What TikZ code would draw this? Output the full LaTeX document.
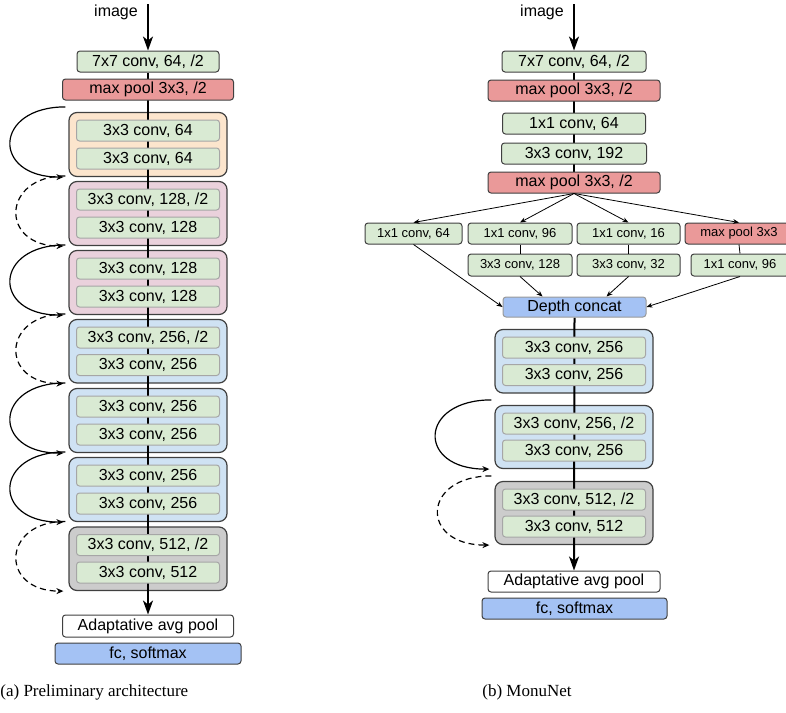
\documentclass[tikz,border=0pt]{standalone}
\usepackage{fontspec}
\setmainfont{Liberation Serif}
\setsansfont{Liberation Sans}
\usetikzlibrary{arrows.meta,backgrounds,fit}
\tikzset{>=Stealth}
\definecolor{convColor}{HTML}{D9EAD3}
\definecolor{poolColor}{HTML}{EA9999}
\definecolor{fcColor}{HTML}{A4C2F4}
\definecolor{orangeBlock}{HTML}{FCE5CD}
\definecolor{pinkBlock}{HTML}{EAD1DC}
\definecolor{blueBlock}{HTML}{CFE2F3}
\definecolor{grayBlock}{HTML}{CCCCCC}
\tikzset{
  layer/.style={
    draw=black!75,
    line width=0.5pt,
    fill=convColor,
    rounded corners=1.5pt,
    inner sep=0pt,
    minimum height=10.5pt,
    font=\sffamily\fontsize{8}{9}\selectfont
  },
  inner layer/.style={layer, draw=black!35, minimum width=71.5pt},
  pool layer/.style={layer, fill=poolColor},
  branch layer/.style={layer, font=\sffamily\fontsize{6.5}{7.5}\selectfont},
  res block/.style={
    draw=black!75,
    line width=0.6pt,
    rounded corners=4pt,
    inner sep=3.5pt
  },
  trunk/.style={line width=1pt},
  input arrow/.style={trunk, -{Stealth[length=7pt,width=5pt,inset=2pt]}},
  identity skip/.style={-{Stealth[length=3.5pt,width=3pt]}, line width=0.6pt},
  projection skip/.style={identity skip, dash pattern=on 3pt off 2pt},
  branch arrow/.style={-{Stealth[length=3pt,width=2.4pt]}, line width=0.4pt},
  caption text/.style={font=\fontsize{8.5}{10}\selectfont, anchor=west, inner sep=0pt}
}

\begin{document}
\begin{tikzpicture}[x=0.5pt, y=-0.5pt] % one unit = one pixel, y grows downward
\def\xA{148}   % axis of the left network
\def\xB{574}   % axis of the right network
\def\bulge{72} % how far the skip arcs swing out

\useasboundingbox (0,0) rectangle (786,712);

% === (a) Preliminary architecture ===
\coordinate (inA) at (\xA,4);
\node[font=\sffamily\fontsize{8}{9}\selectfont, inner sep=0pt] (imgA) at (116,12) {image};

\node[layer, minimum width=71pt] (c7a) at (\xA,61.5) {7x7 conv, 64, /2};
\node[pool layer, minimum width=85.5pt] (mpA) at (\xA,89.5) {max pool 3x3, /2};

\node[inner layer] (b1a) at (\xA,130.5) {3x3 conv, 64};
\node[inner layer] (b1b) at (\xA,158.5) {3x3 conv, 64};
\node[inner layer] (b2a) at (\xA,199.5) {3x3 conv, 128, /2};
\node[inner layer] (b2b) at (\xA,227.5) {3x3 conv, 128};
\node[inner layer] (b3a) at (\xA,268.5) {3x3 conv, 128};
\node[inner layer] (b3b) at (\xA,296.5) {3x3 conv, 128};
\node[inner layer] (b4a) at (\xA,337.5) {3x3 conv, 256, /2};
\node[inner layer] (b4b) at (\xA,365) {3x3 conv, 256};
\node[inner layer] (b5a) at (\xA,406.5) {3x3 conv, 256};
\node[inner layer] (b5b) at (\xA,434.5) {3x3 conv, 256};
\node[inner layer] (b6a) at (\xA,475.5) {3x3 conv, 256};
\node[inner layer] (b6b) at (\xA,503.5) {3x3 conv, 256};
\node[inner layer] (b7a) at (\xA,545) {3x3 conv, 512, /2};
\node[inner layer] (b7b) at (\xA,572.5) {3x3 conv, 512};

\node[layer, fill=white, minimum width=85.5pt, minimum height=11pt] (avgA) at (\xA,626) {Adaptative avg pool};
\node[layer, fill=fcColor, minimum width=93pt] (fcA) at (\xA,653.5) {fc, softmax};

\draw[input arrow] (inA) -- (c7a.north);

% === (b) MonuNet ===
\coordinate (inB) at (\xB,4);
\node[font=\sffamily\fontsize{8}{9}\selectfont, inner sep=0pt] (imgB) at (542,12) {image};

\node[layer, minimum width=72pt] (c7b) at (\xB,61.5) {7x7 conv, 64, /2};
\node[pool layer, minimum width=86pt] (mpB) at (\xB,90.5) {max pool 3x3, /2};
\node[layer, minimum width=71.5pt] (c1b) at (\xB,123.5) {1x1 conv, 64};
\node[layer, minimum width=72.5pt] (c3b) at (\xB,153.5) {3x3 conv, 192};
\node[pool layer, minimum width=86pt] (mp2B) at (\xB,182.5) {max pool 3x3, /2};

% inception branches
\node[branch layer, minimum width=48.5pt] (i1) at (413.5,233.5) {1x1 conv, 64};
\node[branch layer, minimum width=52pt] (i2a) at (520,233.5) {1x1 conv, 96};
\node[branch layer, minimum width=51.5pt] (i3a) at (628.5,233.5) {1x1 conv, 16};
\node[branch layer, fill=poolColor, minimum width=54pt] (i4a) at (739,233.5) {max pool 3x3};
\node[branch layer, minimum width=52pt, minimum height=11pt] (i2b) at (520,265) {3x3 conv, 128};
\node[branch layer, minimum width=51.5pt, minimum height=11pt] (i3b) at (628.5,265) {3x3 conv, 32};
\node[branch layer, minimum width=49pt, minimum height=11pt] (i4b) at (740,265) {1x1 conv, 96};
\node[layer, fill=fcColor, draw=black!40, minimum width=71.5pt, minimum height=10pt] (dc) at (574.5,307) {Depth concat};

\node[inner layer] (rAa) at (\xB,347.5) {3x3 conv, 256};
\node[inner layer] (rAb) at (\xB,375) {3x3 conv, 256};
\node[inner layer] (rBa) at (\xB,423.5) {3x3 conv, 256, /2};
\node[inner layer] (rBb) at (\xB,450.5) {3x3 conv, 256};
\node[inner layer] (rCa) at (\xB,499.5) {3x3 conv, 512, /2};
\node[inner layer] (rCb) at (\xB,526.5) {3x3 conv, 512};

\node[layer, fill=white, minimum width=86pt] (avgB) at (\xB,581.5) {Adaptative avg pool};
\node[layer, fill=fcColor, minimum width=92.5pt] (fcB) at (574.5,608.5) {fc, softmax};

\draw[input arrow] (inB) -- (c7b.north);

\foreach \br in {i1,i2a,i3a,i4a}
  \draw[branch arrow] (mp2B.south) -- (\br.north);
\draw[line width=0.4pt] (i2a.south) -- (i2b.north);
\draw[line width=0.4pt] (i3a.south) -- (i3b.north);
\draw[line width=0.4pt] (i4a.south) -- (i4b.north);
\draw[branch arrow] (i1.south) -- (dc.west);
\draw[branch arrow] (i2b.south) -- ([xshift=-16pt]dc.north);
\draw[branch arrow] (i3b.south) -- ([xshift=16pt]dc.north);
\draw[branch arrow] (i4b.south) -- (dc.east);

% === Residual blocks, trunks and shortcuts (behind the layers) ===
\begin{pgfonlayer}{background}
  \node[res block, fill=orangeBlock, fit=(b1a)(b1b)] (blk1) {};
  \node[res block, fill=pinkBlock, fit=(b2a)(b2b)] (blk2) {};
  \node[res block, fill=pinkBlock, fit=(b3a)(b3b)] (blk3) {};
  \node[res block, fill=blueBlock, fit=(b4a)(b4b)] (blk4) {};
  \node[res block, fill=blueBlock, fit=(b5a)(b5b)] (blk5) {};
  \node[res block, fill=blueBlock, fit=(b6a)(b6b)] (blk6) {};
  \node[res block, fill=grayBlock, fit=(b7a)(b7b)] (blk7) {};

  \node[res block, fill=blueBlock, fit=(rAa)(rAb)] (blkA) {};
  \node[res block, fill=blueBlock, fit=(rBa)(rBb)] (blkB) {};
  \node[res block, fill=grayBlock, fit=(rCa)(rCb)] (blkC) {};

  \draw[trunk, -{Stealth[length=7pt,width=5pt,inset=2pt]}] (c7a.south) -- (avgA.north);
  \draw[trunk] (c7b.south) -- (mp2B.north);
  \draw[trunk, -{Stealth[length=7pt,width=5pt,inset=2pt]}] (dc.south) -- (avgB.north);
\end{pgfonlayer}

% shortcuts: solid = identity, dashed = projection
\foreach \blk/\kind/\k in {blk1/identity skip/\bulge, blk2/projection skip/64,
    blk3/identity skip/\bulge, blk4/projection skip/64, blk5/identity skip/\bulge,
    blk6/identity skip/\bulge, blk7/projection skip/64,
    blkB/identity skip/73, blkC/projection skip/70}
  \draw[\kind] ([shift={(-3,-5)}]\blk.north west)
    .. controls +(-\k,0) and +(-\k,0) .. ([shift={(-5,0)}]\blk.south west);

% === Captions ===
\node[caption text] (capA) at (0,692) {(a) Preliminary architecture};
\node[caption text] (capB) at (482,692) {(b) MonuNet};

\end{tikzpicture}
\end{document}
